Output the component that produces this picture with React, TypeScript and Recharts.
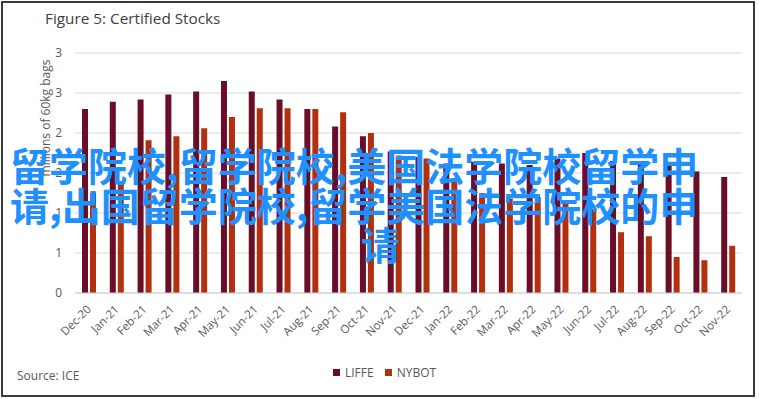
import React from 'react';
import { BarChart, Bar, XAxis, YAxis, CartesianGrid } from 'recharts';

const months = ['Dec-20','Jan-21','Feb-21','Mar-21','Apr-21','May-21','Jun-21','Jul-21','Aug-21','Sep-21','Oct-21','Nov-21','Dec-21','Jan-22','Feb-22','Mar-22','Apr-22','May-22','Jun-22','Jul-22','Aug-22','Sep-22','Oct-22','Nov-22'];
const liffe = [2.30, 2.39, 2.42, 2.48, 2.52, 2.65, 2.52, 2.42, 2.30, 2.08, 1.96, 1.77, 1.70, 1.62, 1.64, 1.62, 1.60, 1.68, 1.75, 1.65, 1.60, 1.59, 1.52, 1.45];
const nybot = [1.25, 1.40, 1.91, 1.96, 2.06, 2.20, 2.31, 2.31, 2.30, 2.26, 2.00, 1.72, 1.68, 1.39, 1.25, 1.18, 1.20, 1.15, 1.05, 0.76, 0.71, 0.45, 0.41, 0.59];
const yTicks = [0, 0.5, 1, 1.5, 2, 2.5, 3];

const seriesNames = ['LIFFE', 'NYBOT'];
const seriesColors = ['#6B0D26', '#B3300F'];

const titleText = 'Figure 5: Certified Stocks';
const yLabelText = 'millions of 60kg bags';
const sourceText = 'Source: ICE';
const overlayLines = ['留学院校,留学院校,美国法学院校留学申', '请,出国留学院校,留学美国法学院校的申', '请'];

const data = months.map((m, i) => ({ month: m, LIFFE: liffe[i], NYBOT: nybot[i] }));

const FONT = '"Open Sans", "Noto Sans", sans-serif';
const GRAY = '#595959';

const XTick = (props: any) => {
  const { x, y, payload } = props;
  return (
    <g transform={`translate(${x + 3},${y + 17})`}>
      <text x={0} y={0} textAnchor="end" transform="rotate(-45)" fill={GRAY} fontSize={11.5} fontFamily={FONT}>
        {payload.value}
      </text>
    </g>
  );
};

export default function App() {
  return (
    <div style={{ position: 'absolute', left: 0, top: 0, width: 760, height: 399, background: '#fff', overflow: 'hidden' }}>
      <div style={{ position: 'absolute', left: 1, top: 1, width: 750, height: 392, border: '2px solid #3a3a3a' }} />
      <div style={{ position: 'absolute', left: 45, top: 8, fontFamily: FONT, fontSize: 15.3, color: '#404040', whiteSpace: 'nowrap' }}>{titleText}</div>
      <div style={{ position: 'absolute', left: 45, top: 118, transform: 'translate(-50%, -50%) rotate(-90deg)', fontFamily: FONT, fontSize: 12, color: GRAY, whiteSpace: 'nowrap' }}>{yLabelText}</div>
      <div style={{ position: 'absolute', left: 0, top: 0 }}>
        <BarChart width={760} height={399} data={data} margin={{ top: 53, right: 18, bottom: 46, left: 0 }} barSize={6} barGap={2}>
          <CartesianGrid vertical={false} stroke="#d9d9d9" />
          <XAxis dataKey="month" interval={0} height={60} tickSize={0} tickMargin={0} tickLine={false} axisLine={{ stroke: '#d0d0d0' }} tick={<XTick />} />
          <YAxis width={75} domain={[0, 3]} ticks={yTicks} tickFormatter={(v: number) => String(Math.round(v))} axisLine={false} tickLine={false} tickSize={0} tickMargin={13} tick={{ fill: GRAY, fontSize: 12, fontFamily: FONT }} />
          <Bar dataKey="LIFFE" fill={seriesColors[0]} isAnimationActive={false} />
          <Bar dataKey="NYBOT" fill={seriesColors[1]} isAnimationActive={false} />
        </BarChart>
      </div>
      <div style={{ position: 'absolute', left: 17, top: 367, fontFamily: FONT, fontSize: 12, color: GRAY, whiteSpace: 'nowrap' }}>{sourceText}</div>
      <div style={{ position: 'absolute', left: 333, top: 364, display: 'flex', alignItems: 'center', fontFamily: FONT, fontSize: 12, color: GRAY, whiteSpace: 'nowrap' }}>
        {seriesNames.map((n, i) => (
          <div key={n} style={{ display: 'flex', alignItems: 'center', marginRight: 11 }}>
            <div style={{ width: 7, height: 7, background: seriesColors[i], marginRight: 5 }} />
            <span>{n}</span>
          </div>
        ))}
      </div>
      {overlayLines.map((line, i) => (
        <div key={i} style={{ position: 'absolute', left: i === 2 ? 361 : 10, top: 145 + i * 39.5, fontFamily: '"Noto Sans CJK SC", sans-serif', fontWeight: 700, fontSize: 39, lineHeight: '39px', color: '#1E90FF', whiteSpace: 'nowrap', pointerEvents: 'none' }}>
          {line}
        </div>
      ))}
    </div>
  );
}
